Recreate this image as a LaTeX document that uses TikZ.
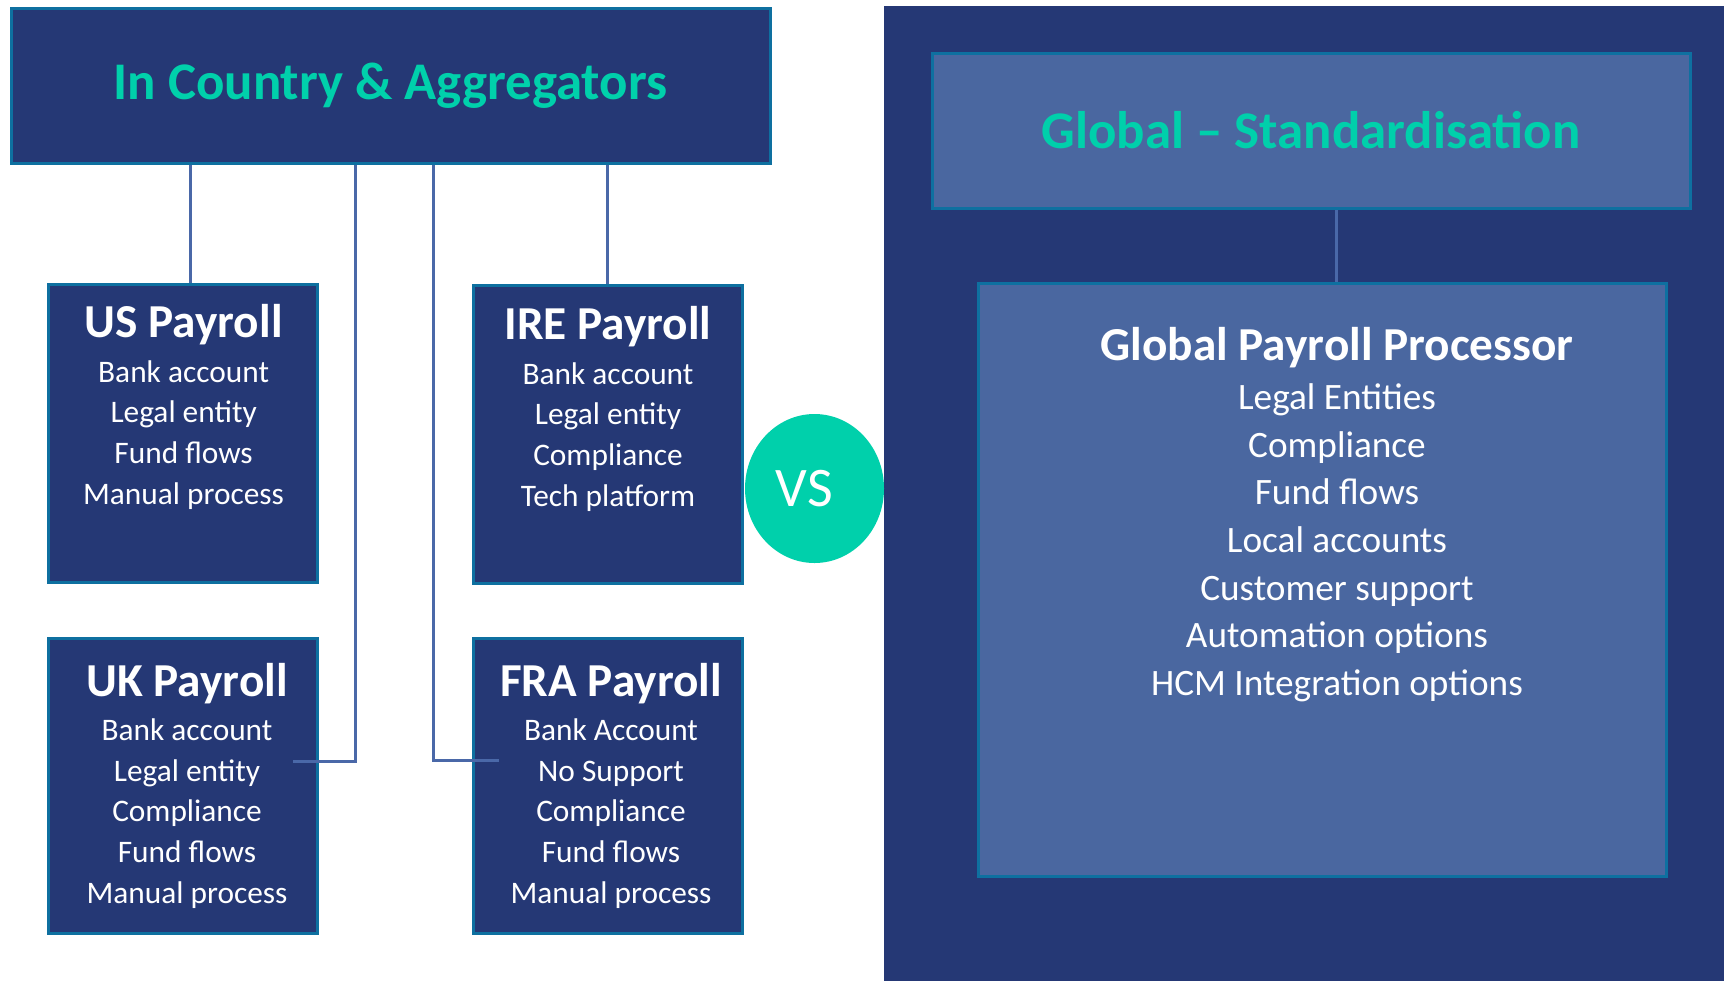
\documentclass[tikz,border=0pt]{standalone}
\usepackage{fontspec}
\setmainfont{Carlito}
\usetikzlibrary{positioning,shapes.geometric}
\definecolor{navy}{RGB}{37,56,117}
\definecolor{edgeblue}{RGB}{14,112,160}
\definecolor{paneblue}{RGB}{74,103,160}
\definecolor{linkblue}{RGB}{74,104,168}
\definecolor{vsgreen}{RGB}{0,208,171}
\newcommand{\paytitle}{\fontsize{13.45}{15}\selectfont\bfseries}
\tikzset{
  headbox/.style={draw=edgeblue,line width=0.3mm,fill=navy,minimum width=7.59cm,minimum height=1.55cm,inner sep=0pt,text=vsgreen,font=\fontsize{15.05}{17}\selectfont\bfseries},
  paybox/.style={draw=edgeblue,line width=0.3mm,fill=navy,minimum width=2.69cm,minimum height=2.98cm,inner sep=0pt},
  paytext/.style={anchor=base,inner sep=0pt,text=white,font=\fontsize{8.92}{11.57}\selectfont},
  gpptext/.style={anchor=base,inner sep=0pt,text=white,font=\fontsize{10.6}{13.57}\selectfont},
  link/.style={draw=linkblue,line width=0.3mm},
}
\begin{document}
\begin{tikzpicture}
\useasboundingbox (0,0) rectangle (17.24,-9.81);
% right panel
\fill[navy] (8.84,-0.06) rectangle (17.24,-9.81);
\node[headbox] (incountry) at (3.905,-0.855) {In Country \& Aggregators};
\node[paybox] (us) at (1.825,-4.33) {};
\node[paybox] (ire) at (6.075,-4.34) {};
\node[paybox,minimum height=2.95cm] (uk) at (1.825,-7.855) {};
\node[paybox,minimum height=2.95cm] (fra) at (6.075,-7.855) {};
\node[headbox,fill=paneblue,minimum width=7.58cm] (global) at (13.11,-1.305) {Global – Standardisation};
\node[paybox,fill=paneblue,minimum width=6.88cm,minimum height=5.93cm] (gpp) at (13.22,-5.795) {};
\node[ellipse,fill=vsgreen,minimum width=1.39cm,minimum height=1.49cm,inner sep=0pt,text=white,font=\fontsize{15.9}{18}\selectfont] (vs) at (8.145,-4.885) {VS\kern2mm};
% connectors
\coordinate (ustop) at ([xshift=0.75mm]us.north);
\draw[link] (ustop) -- (ustop |- incountry.south);
\draw[link] (ire.north) -- (ire.north |- incountry.south);
\coordinate (ukend) at (2.93,-7.61);
\coordinate (ukdrop) at (3.55,-7.61);
\draw[link] (ukend) -- (ukdrop) -- (ukdrop |- incountry.south);
\coordinate (fraend) at (4.99,-7.60);
\coordinate (fradrop) at (4.33,-7.60);
\draw[link] (fraend) -- (fradrop) -- (fradrop |- incountry.south);
\coordinate (gtop) at ([xshift=1.4mm]gpp.north);
\draw[link] (gtop) -- (gtop |- global.south);
% box texts
\node[paytext] (ustext) at (1.836,-3.37) {\begin{tabular}[t]{@{}c@{}}{\paytitle US Payroll}\\[1.3pt]
  Bank account\\ Legal entity\\ Fund flows\\ Manual process\end{tabular}};
\node[paytext] (iretext) at (6.08,-3.39) {\begin{tabular}[t]{@{}c@{}}{\paytitle IRE Payroll}\\[1.3pt]
  Bank account\\ Legal entity\\ Compliance\\ Tech platform\end{tabular}};
\node[paytext] (uktext) at (1.87,-6.96) {\begin{tabular}[t]{@{}c@{}}{\paytitle UK Payroll}\\[1.1pt]
  Bank account\\ Legal entity\\ Compliance\\ Fund flows\\ Manual process\end{tabular}};
\node[paytext] (fratext) at (6.11,-6.96) {\begin{tabular}[t]{@{}c@{}}{\paytitle FRA Payroll}\\[1.1pt]
  Bank Account\\ No Support\\ Compliance\\ Fund flows\\ Manual process\end{tabular}};
\node[gpptext] (gpptext) at (13.37,-3.60) {\begin{tabular}[t]{@{}c@{}}{\paytitle Global Payroll Processor}\\[0.5pt]
  Legal Entities\\ Compliance\\ Fund flows\\ Local accounts\\ Customer support\\ Automation options\\ HCM Integration options\end{tabular}};
\end{tikzpicture}
\end{document}
